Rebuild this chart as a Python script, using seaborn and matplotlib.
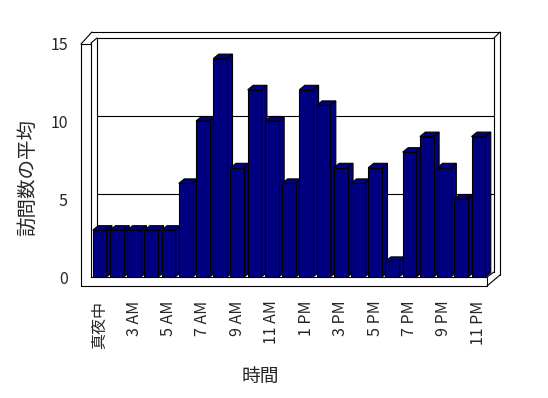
import matplotlib
matplotlib.use("Agg")
import matplotlib.pyplot as plt
import matplotlib.transforms as mtransforms
from matplotlib.lines import Line2D
from matplotlib.patches import Polygon
import pandas as pd
import seaborn as sns

# hourly average visits (one hour is missing between midnight and 3 AM)
hours = ["真夜中", "1 AM", "3 AM", "4 AM", "5 AM", "6 AM", "7 AM", "8 AM",
         "9 AM", "10 AM", "11 AM", "12 PM", "1 PM", "2 PM", "3 PM", "4 PM",
         "5 PM", "6 PM", "7 PM", "8 PM", "9 PM", "10 PM", "11 PM"]
visits = [3, 3, 3, 3, 3, 6, 10, 14, 7, 12, 10, 6, 12, 11, 7, 6, 7, 1, 8, 9, 7, 5, 9]
y_ticks = [0, 5, 10, 15]
x_title = "時間"
y_title = "訪問数の平均"

W, H = 548, 398
NAVY = "#000080"
DX, DY = 5.5, 4.5   # depth of the bars, in pixels
LW = 0.8

sns.set_style("white")
plt.rcParams["font.family"] = ["Noto Sans CJK JP", "DejaVu Sans"]

fig = plt.figure(figsize=(W / 100, H / 100), dpi=100)


def box(left, top, right, bottom):
    return [left / W, 1 - bottom / H, (right - left) / W, (bottom - top) / H]


px = mtransforms.Affine2D().scale(1, -1).translate(0, H)

# back wall with the gridlines
back = fig.add_axes(box(97, 38, 494, 272))
back.set_xlim(0, 1)
back.set_ylim(0, 15)
back.set_xticks([])
back.set_yticks([])
for v in y_ticks[1:-1]:
    back.axhline(v, color="black", lw=LW)
back.spines["bottom"].set_visible(False)
for s in ["left", "top", "right"]:
    back.spines[s].set_linewidth(LW)
    back.spines[s].set_color("black")

# front plane with the bars
ax = fig.add_axes(box(91, 43, 487, 277))
ax.patch.set_alpha(0)
df = pd.DataFrame({"hour": hours, "visits": visits})
sns.barplot(data=df, x="hour", y="visits", color=NAVY, saturation=1,
            width=0.8, edgecolor="black", linewidth=LW, ax=ax)
ax.set_xlim(-0.5, len(hours) - 0.5)
ax.set_ylim(0, 15)

# fake 3d: top and side faces for every bar
for i, p in enumerate(ax.patches):
    x0, x1 = p.get_x(), p.get_x() + p.get_width()
    h = p.get_height()
    (ax0, ay0), (ax1, ay1) = ax.transData.transform([(x0, 0), (x1, h)])
    top = [(ax0, ay1), (ax1, ay1), (ax1 + DX, ay1 + DY), (ax0 + DX, ay1 + DY)]
    side = [(ax1, ay0), (ax1, ay1), (ax1 + DX, ay1 + DY), (ax1 + DX, ay0 + DY)]
    for pts in (top, side):
        ax.add_patch(Polygon(pts, closed=True, facecolor=NAVY, edgecolor="black",
                             lw=LW, transform=mtransforms.IdentityTransform(),
                             clip_on=False, zorder=3 + 2 * i))
    p.set_zorder(4 + 2 * i)

ax.set_yticks(y_ticks)
ax.tick_params(axis="y", length=7.2, width=LW, pad=9.4, labelsize=11.5,
               direction="out", color="black")
ax.set_xticks(range(0, len(hours), 2))
ax.set_xticklabels(hours[::2], rotation=90)
ax.set_xticks([i - 0.5 for i in range(len(hours) + 1)], minor=True)
ax.tick_params(axis="x", which="major", length=0, pad=17, labelsize=11.5)
ax.tick_params(axis="x", which="minor", length=6.5, width=LW,
               direction="out", color="black")
for s in ["top", "right"]:
    ax.spines[s].set_visible(False)
for s in ["left", "bottom"]:
    ax.spines[s].set_linewidth(LW)
    ax.spines[s].set_color("black")

ax.set_xlabel(x_title, fontsize=13.5, va="center")
ax.xaxis.set_label_coords(0.427, -0.427)
ax.set_ylabel(y_title, fontsize=14, va="center")
ax.yaxis.set_label_coords(-0.16, 0.427)

# outline of the walls and the floor
frame = [
    [(92, 32), (500, 32)],
    [(500, 32), (500, 275)],
    [(500, 275), (487, 286)],
    [(494, 38), (500, 32)],
    [(81, 44), (92, 32)],
    [(91, 43), (97, 38)],
    [(81, 44), (81, 286)],
    [(81, 44), (91, 44)],
    [(81, 286), (487, 286)],
    [(487, 277), (487, 286)],
    [(487, 277), (494, 272)],
]
for (xa, ya), (xb, yb) in frame:
    fig.add_artist(Line2D([xa, xb], [ya, yb], transform=px, color="black", lw=LW))

fig.savefig("out.png", dpi=100, facecolor="white")
